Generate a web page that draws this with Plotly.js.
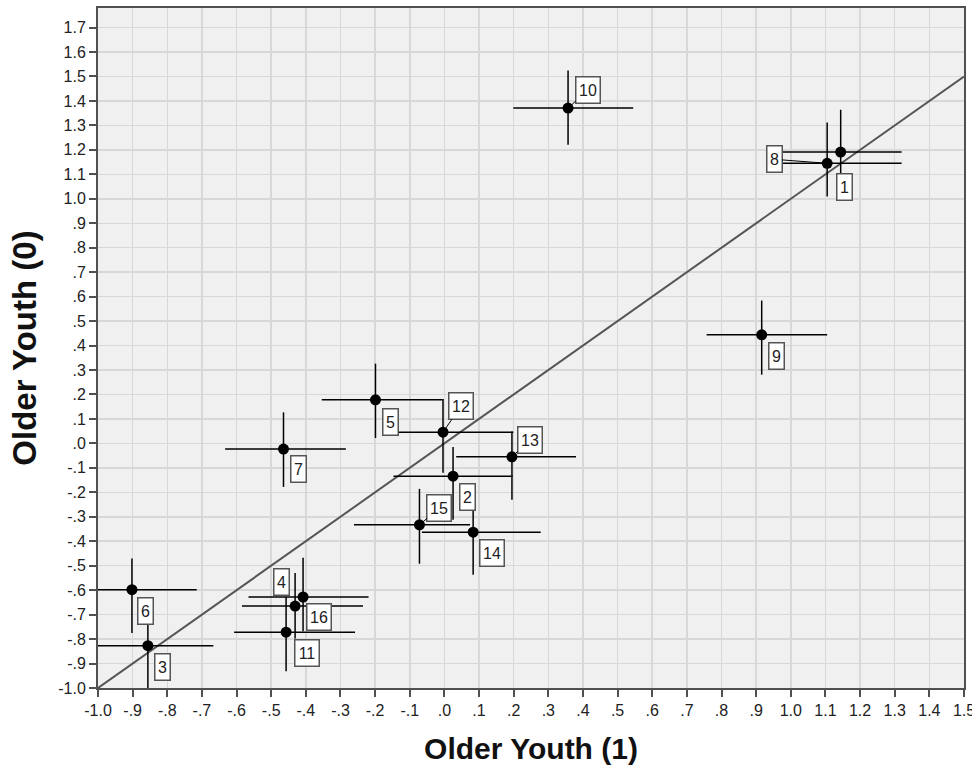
<!DOCTYPE html>
<html>
<head>
<meta charset="utf-8">
<script src="https://cdn.plot.ly/plotly-3.0.1.min.js"></script>
<style>html,body{margin:0;padding:0;background:#fff;}#chart{width:972px;height:770px;}</style>
</head>
<body>
<div id="chart"></div>
<script>
// ---- data ----
const pointLabels = ['1','2','3','4','5','6','7','8','9','10','11','12','13','14','15','16'];
const olderYouth1 = [1.144, 0.025, -0.856, -0.408, -0.199, -0.902, -0.4645, 1.105, 0.916, 0.357, -0.457, -0.004, 0.195, 0.083, -0.072, -0.431];
const olderYouth0 = [1.191, -0.134, -0.827, -0.628, 0.178, -0.598, -0.023, 1.145, 0.444, 1.371, -0.772, 0.046, -0.055, -0.363, -0.333, -0.665];
const x1Low  = [0.968, -0.147, -1.013, -0.5655, -0.354, -1.06, -0.633, 0.94, 0.757, 0.199, -0.607, -0.17, 0.034, -0.065, -0.261, -0.5845];
const x1High = [1.320, 0.197, -0.667, -0.219, -0.005, -0.715, -0.2845, 1.320, 1.105, 0.545, -0.258, 0.199, 0.380, 0.278, 0.074, -0.235];
const y0Low  = [1.015, -0.312, -1.018, -0.768, 0.022, -0.775, -0.178, 1.009, 0.281, 1.221, -0.932, -0.120, -0.230, -0.537, -0.492, -0.798];
const y0High = [1.364, -0.015, -0.723, -0.468, 0.326, -0.471, 0.127, 1.312, 0.584, 1.524, -0.628, 0.181, 0.049, -0.234, -0.186, -0.530];
const refLine = [-1.0, 1.5];
const xTickVals = [-1.0,-0.9,-0.8,-0.7,-0.6,-0.5,-0.4,-0.3,-0.2,-0.1,0.0,0.1,0.2,0.3,0.4,0.5,0.6,0.7,0.8,0.9,1.0,1.1,1.2,1.3,1.4,1.5];
const xTickText = ['-1.0','-.9','-.8','-.7','-.6','-.5','-.4','-.3','-.2','-.1','.0','.1','.2','.3','.4','.5','.6','.7','.8','.9','1.0','1.1','1.2','1.3','1.4','1.5'];
const yTickVals = [-1.0,-0.9,-0.8,-0.7,-0.6,-0.5,-0.4,-0.3,-0.2,-0.1,0.0,0.1,0.2,0.3,0.4,0.5,0.6,0.7,0.8,0.9,1.0,1.1,1.2,1.3,1.4,1.5,1.6,1.7];
const yTickText = ['-1.0','-.9','-.8','-.7','-.6','-.5','-.4','-.3','-.2','-.1','.0','.1','.2','.3','.4','.5','.6','.7','.8','.9','1.0','1.1','1.2','1.3','1.4','1.5','1.6','1.7'];

// ---- label placement (pixel offsets of label boxes from their points) ----
const labelOffsetX = [4, 14, 15, -22, 15, 14, 15, -53, 15, 20, 21, 18, 18, 19, 20, 24];
const labelOffsetY = [35, 21, 21, -15, 22, 21, 20, -4, 21, -18, 21, -26, -17, 21, -17, 11];
const labelLeader  = [false, false, false, false, false, false, false, true, false, true, false, true, true, false, true, false];

const errPlus = (v, hi) => v.map((d, i) => hi[i] - d);
const errMinus = (v, lo) => v.map((d, i) => d - lo[i]);

const FONT = 'Liberation Sans, Arial, sans-serif';

const traces = [
  {
    x: refLine, y: refLine, mode: 'lines', type: 'scatter',
    line: {color: '#555555', width: 2}, hoverinfo: 'skip', showlegend: false
  },
  {
    x: olderYouth1, y: olderYouth0, mode: 'markers', type: 'scatter',
    cliponaxis: false,
    marker: {color: '#000000', size: 11},
    error_x: {type: 'data', symmetric: false, array: errPlus(olderYouth1, x1High), arrayminus: errMinus(olderYouth1, x1Low), color: '#000000', thickness: 1.5, width: 0},
    error_y: {type: 'data', symmetric: false, array: errPlus(olderYouth0, y0High), arrayminus: errMinus(olderYouth0, y0Low), color: '#000000', thickness: 1.5, width: 0},
    showlegend: false
  }
];

const annotations = pointLabels.map((t, i) => ({
  x: olderYouth1[i], y: olderYouth0[i], xref: 'x', yref: 'y',
  text: t, showarrow: true, arrowhead: 0, arrowwidth: 1,
  arrowcolor: labelLeader[i] ? '#000000' : 'rgba(0,0,0,0)',
  standoff: 0, ax: labelOffsetX[i], ay: labelOffsetY[i],
  width: t.length === 1 ? 10 : 19, height: 21,
  bgcolor: '#ffffff', bordercolor: '#555555', borderwidth: 1.5, borderpad: 2,
  font: {family: FONT, size: 16, color: '#222222'}
}));

const axisCommon = {
  showline: true, linecolor: '#505050', linewidth: 2, mirror: true,
  ticks: 'outside', ticklen: 7, tickwidth: 2, tickcolor: '#505050',
  showgrid: true, gridcolor: '#d8d8d8', gridwidth: 1.5, zeroline: false,
  tickfont: {family: FONT, size: 16, color: '#222222'},
  tickmode: 'array', automargin: false, ticklabeloverflow: 'allow'
};

const layout = {
  width: 972, height: 770,
  margin: {l: 98, r: 8, t: 8, b: 82},
  paper_bgcolor: '#ffffff', plot_bgcolor: '#f0f0f0',
  showlegend: false,
  xaxis: Object.assign({}, axisCommon, {
    range: [-1.0, 1.5], tickvals: xTickVals, ticktext: xTickText,
    title: {text: 'Older Youth (1)', font: {family: FONT, size: 30, color: '#111111', weight: 'bold'}, standoff: 20}
  }),
  yaxis: Object.assign({}, axisCommon, {
    range: [-1.0, 1.78], tickvals: yTickVals, ticktext: yTickText,
    title: {text: 'Older Youth (0)', font: {family: FONT, size: 33, color: '#111111', weight: 'bold'}, standoff: 12}
  }),
  annotations: annotations
};

Plotly.newPlot('chart', traces, layout, {displayModeBar: false, staticPlot: true});
</script>
</body>
</html>
